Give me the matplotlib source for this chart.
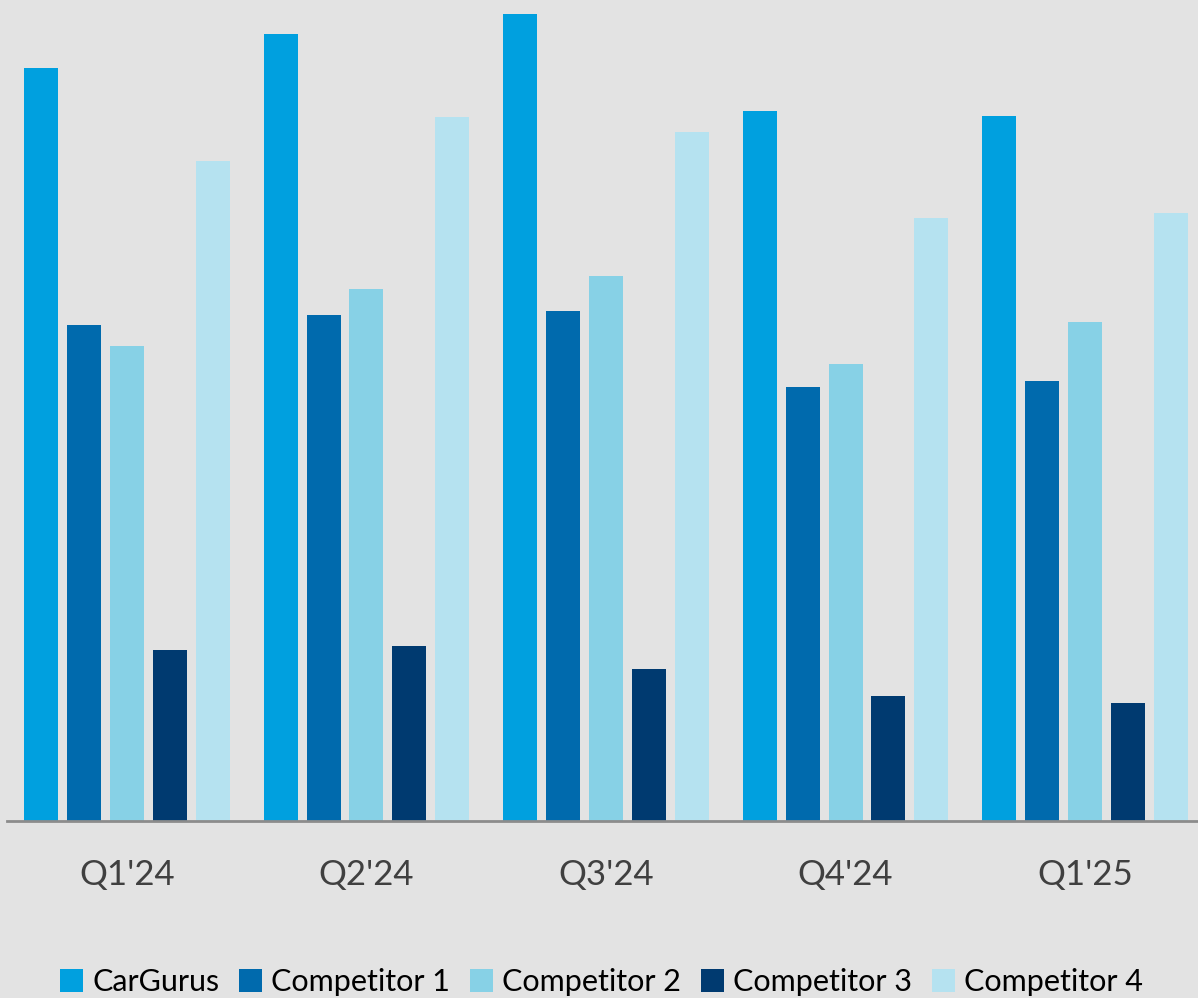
import numpy as np
import matplotlib.pyplot as plt

# data (arbitrary units)
quarters = ["Q1'24", "Q2'24", "Q3'24", "Q4'24", "Q1'25"]
series = ['CarGurus', 'Competitor 1', 'Competitor 2', 'Competitor 3', 'Competitor 4']
cargurus = [753, 787, 807, 710, 705]
comp1 = [496, 506, 510, 434, 440]
comp2 = [475, 532, 545, 457, 499]
comp3 = [171, 175, 152, 125, 118]
comp4 = [660, 704, 689, 603, 608]
colors = ['#00A0DF', '#006AAD', '#87D1E6', '#003A70', '#B5E2F0']

bg = '#E3E3E3'
plt.rcParams['font.family'] = ['Lato', 'DejaVu Sans']

fig = plt.figure(figsize=(11.98, 9.98), dpi=100, facecolor=bg)
ax = fig.add_axes([7 / 1198, 177 / 998, 1198 / 1198, 821 / 998])
ax.set_facecolor(bg)

x = np.arange(len(quarters))
step = 0.179
width = 0.142
vals = [cargurus, comp1, comp2, comp3, comp4]
for i, (name, v) in enumerate(zip(series, vals)):
    ax.bar(x + (i - 2) * step, v, width, color=colors[i], label=name)

ax.set_xlim(-0.5, 4.5)
ax.set_ylim(0, 821)
ax.set_yticks([])
ax.set_xticks(x)
ax.set_xticklabels(quarters, fontsize=25, color='#404040')
ax.tick_params(axis='x', length=0, pad=27)
for s in ['top', 'right', 'left']:
    ax.spines[s].set_visible(False)
ax.spines['bottom'].set_color('#8C8C8C')
ax.spines['bottom'].set_linewidth(2)

fig.legend(loc='center', bbox_to_anchor=(0.502, 0.016), ncol=5, frameon=False,
           fontsize=22, handlelength=0.75, handleheight=0.75, handletextpad=0.3,
           columnspacing=0.65, borderaxespad=0)

fig.savefig('out.png', dpi=100, facecolor=bg)
